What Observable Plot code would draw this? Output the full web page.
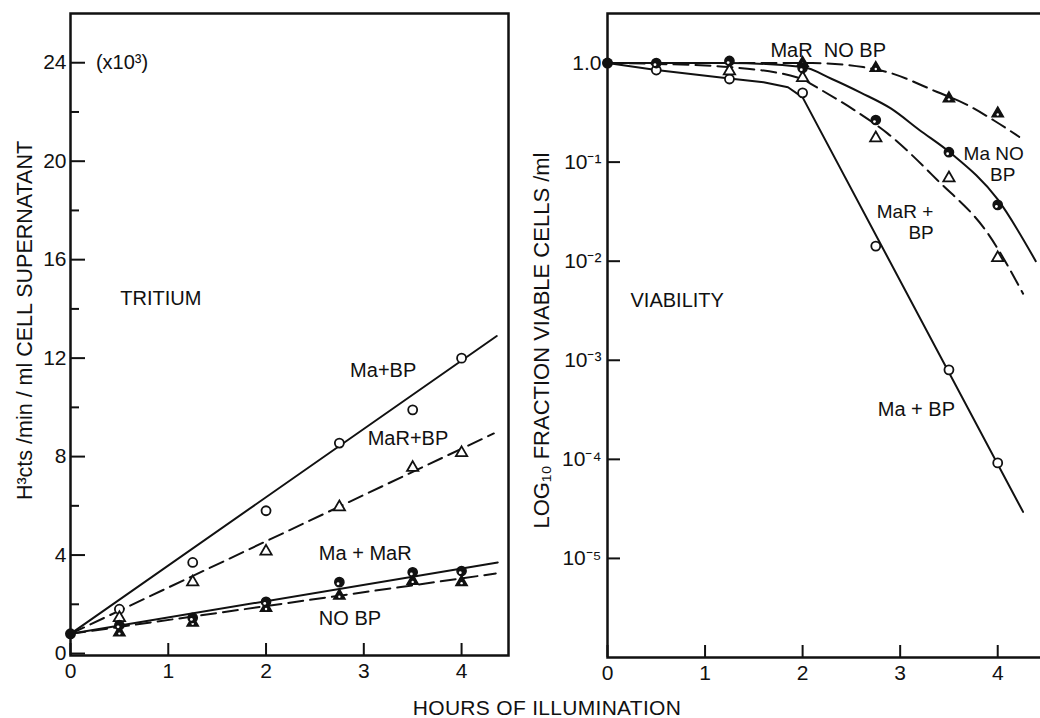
<!DOCTYPE html>
<html><head><meta charset="utf-8">
<script src="https://cdn.jsdelivr.net/npm/d3@7"></script>
<script src="https://cdn.jsdelivr.net/npm/@observablehq/plot@0.6"></script>
<style>
html,body{margin:0;padding:0;background:#fff;overflow:hidden;}
#wrap{position:relative;width:1040px;height:718px;overflow:hidden;font-family:"Liberation Sans",Arial,sans-serif;color:#111;background:#fff;}
#left{position:absolute;left:0;top:0;width:520px;}
#right{position:absolute;left:520px;top:0;width:540px;}
#left svg,#right svg{max-width:none !important;}
#xtitle{position:absolute;left:0;width:1094px;top:697px;text-align:center;font-size:21px;line-height:21px;letter-spacing:0.3px;}
</style></head><body>
<div id="wrap"><div id="left"></div><div id="right"></div><div id="xtitle">HOURS OF ILLUMINATION</div></div>
<script>
// ---------- shared ----------
const hours = [0.5, 1.25, 2, 2.75, 3.5, 4];
const startHour = 0;
const hourTicks = [0, 1, 2, 3, 4];
const xTitle = "HOURS OF ILLUMINATION";

// ---------- TRITIUM panel (x10^3 cts/min/ml) ----------
const tritStart = 0.8;
const tritMaBP = [1.8, 3.7, 5.8, 8.55, 9.9, 12.0];
const tritMaRBP = [1.45, 2.9, 4.15, 5.95, 7.55, 8.15];
const tritMaNoBP = [1.15, 1.45, 2.1, 2.9, 3.3, 3.35];
const tritMaRNoBP = [0.85, 1.25, 1.85, 2.35, 2.95, 2.9];
// fitted lines (hand-drawn in original)
const tritFitMaBPx = [0, 4.36], tritFitMaBPy = [0.8, 12.9];
const tritFitMaRBPx = [0, 4.33], tritFitMaRBPy = [0.8, 8.94];
const tritFitMaNoBPx = [0, 4.37], tritFitMaNoBPy = [0.8, 3.7];
const tritFitMaRNoBPx = [0, 4.35], tritFitMaRNoBPy = [0.8, 3.25];
const tritMajorTicks = [0, 4, 8, 12, 16, 20, 24];
const tritMinorTicks = [2, 6, 10, 14, 18, 22];
const tritYTitle = "H³cts /min / ml CELL SUPERNATANT";
const tritLabelText = ["(x10³)", "TRITIUM", "Ma+BP", "MaR+BP", "Ma + MaR", "NO BP"];
const tritLabelX = [0.26, 0.51, 2.86, 3.04, 2.54, 2.54];
const tritLabelY = [24.0, 14.42, 11.5, 8.74, 4.06, 1.42];

// ---------- VIABILITY panel (fraction viable) ----------
const viabStart = 1.0;
const viabMaBPx = [0.5, 1.25, 2, 2.75, 3.5, 4];
const viabMaBP = [0.85, 0.69, 0.50, 0.0142, 8.0e-4, 9.2e-5];
const viabMaNoBPx = [0.5, 1.25, 2, 2.75, 3.5, 4];
const viabMaNoBP = [1.0, 1.05, 0.89, 0.266, 0.126, 0.037];
const viabMaRBPx = [1.25, 2, 2.75, 3.5, 4];
const viabMaRBP = [0.83, 0.71, 0.175, 0.069, 0.0108];
const viabMaRNoBPx = [2, 2.75, 3.5, 4];
const viabMaRNoBP = [1.0, 0.89, 0.44, 0.31];
// fitted curves
const viabFitMaBPx = [0, 0.5, 1.25, 1.6, 1.85, 2.0, 4.26];
const viabFitMaBP = [1.0, 0.85, 0.70, 0.64, 0.57, 0.45, 2.95e-5];
const viabFitMaNoBPx = [0, 0.5, 1.25, 2.0, 2.3, 2.6, 2.9, 3.2, 3.52, 4.0, 4.39];
const viabFitMaNoBP = [1.0, 1.0, 1.0, 0.91, 0.69, 0.50, 0.35, 0.21, 0.123, 0.042, 0.010];
const viabFitMaRBPx = [0, 0.5, 1.25, 2.0, 2.08, 2.53, 2.87, 3.38, 3.9, 4.26];
const viabFitMaRBP = [1.0, 0.98, 0.91, 0.69, 0.62, 0.335, 0.195, 0.066, 0.019, 0.0047];
const viabFitMaRNoBPx = [0, 2.1, 2.62, 2.87, 3.38, 3.66, 3.97, 4.22];
const viabFitMaRNoBP = [1.0, 1.0, 0.91, 0.81, 0.51, 0.39, 0.26, 0.18];
const viabTicks = [1, 1e-1, 1e-2, 1e-3, 1e-4, 1e-5];
const viabYTitle = "LOG₁₀ FRACTION VIABLE CELLS /ml";
const NB = "\u00a0";
const viabLabelText = ["MaR  NO BP", "VIABILITY", "Ma + BP"];
const viabLabelX = [1.67, 0.236, 2.77];
const viabLabelY = [1.35, 0.00397, 3.16e-4];
// two-line labels
const viabWrapText = ["Ma NO\n" + NB.repeat(5) + "BP", "MaR +\n" + NB.repeat(6) + "BP"];
const viabWrapX = [3.65, 2.76];
const viabWrapY = [0.096, 0.0252];

// ---------- helpers ----------
const rows = (xs, ys) => xs.map((x, i) => ({x, y: ys[i]}));
const INK = "#111";
const FONT = "'Liberation Sans', Arial, sans-serif";
const supMap = {"-": "⁻", "0": "⁰", "1": "¹", "2": "²", "3": "³", "4": "⁴", "5": "⁵", "6": "⁶", "7": "⁷", "8": "⁸", "9": "⁹"};
const sup = s => String(s).split("").map(c => supMap[c]).join("");
const svgStyle = {fontFamily: FONT, fontSize: "21px", color: INK, background: "transparent", overflow: "visible", maxWidth: "none"};

function openCircles(data) {
  return Plot.dot(data, {x: "x", y: "y", r: 4.5, stroke: INK, strokeWidth: 1.8, fill: "white"});
}
function halfCircles(data) {
  return [
    Plot.dot(data, {x: "x", y: "y", r: 4.6, stroke: INK, strokeWidth: 1.5, fill: INK}),
    Plot.dot(data, {x: "x", y: "y", r: 1.4, fill: "white", dx: -1.3, dy: 1.6})
  ];
}
function openTriangles(data) {
  return Plot.dot(data, {x: "x", y: "y", symbol: "triangle", r: 4.2, stroke: INK, strokeWidth: 1.8, fill: "white"});
}
function filledTriangles(data) {
  return [
    Plot.dot(data, {x: "x", y: "y", symbol: "triangle", r: 4.2, stroke: INK, strokeWidth: 1.5, fill: INK}),
    Plot.dot(data, {x: "x", y: "y", r: 1.2, fill: "white", dy: 1})
  ];
}
const solid = {x: "x", y: "y", stroke: INK, strokeWidth: 2};
const dashed = {x: "x", y: "y", stroke: INK, strokeWidth: 2, strokeDasharray: "15,7"};

// ---------- left panel ----------
const LW = 520, LH = 690, LM = {l: 70, r: 12, t: 13, b: 35};
const left = Plot.plot({
  width: LW, height: LH,
  marginLeft: LM.l, marginRight: LM.r, marginTop: LM.t, marginBottom: LM.b,
  x: {domain: [0, 4.48]},
  y: {domain: [-0.08, 26]},
  style: svgStyle,
  marks: [
    Plot.frame({stroke: INK, strokeWidth: 2.5}),
    Plot.axisX({ticks: hourTicks, tickSize: 0, tickPadding: 8, tickFormat: d => String(d), label: null}),
    Plot.tickX(hourTicks, {x: d => d, stroke: INK, strokeWidth: 2, insetTop: LH - LM.t - LM.b - 12}),
    Plot.axisY({ticks: tritMajorTicks, tickSize: 0, tickPadding: 4, tickFormat: d => String(d), label: null}),
    Plot.tickY(tritMajorTicks, {y: d => d, stroke: INK, strokeWidth: 2, insetRight: LW - LM.l - LM.r - 15}),
    Plot.tickY(tritMinorTicks, {y: d => d, stroke: INK, strokeWidth: 2, insetRight: LW - LM.l - LM.r - 9}),
    Plot.text([tritYTitle], {frameAnchor: "left", text: d => d, textAnchor: "middle", rotate: -90, dx: -45, dy: -14, fontSize: 21.5, fill: INK}),
    Plot.line(rows(tritFitMaBPx, tritFitMaBPy), solid),
    Plot.line(rows(tritFitMaRBPx, tritFitMaRBPy), dashed),
    Plot.line(rows(tritFitMaNoBPx, tritFitMaNoBPy), solid),
    Plot.line(rows(tritFitMaRNoBPx, tritFitMaRNoBPy), dashed),
    openCircles(rows(hours, tritMaBP)),
    openTriangles(rows(hours, tritMaRBP)),
    filledTriangles(rows(hours, tritMaRNoBP)),
    halfCircles(rows(hours, tritMaNoBP)),
    Plot.dot([{x: startHour, y: tritStart}], {x: "x", y: "y", r: 5.5, fill: INK}),
    Plot.text(tritLabelText.map((t, i) => ({t, x: tritLabelX[i], y: tritLabelY[i]})),
      {x: "x", y: "y", text: "t", textAnchor: "start", fontSize: 20, fill: INK})
  ]
});
document.getElementById("left").appendChild(left);

// ---------- right panel ----------
const RW = 540, RH = 692, RM = {l: 87, r: 14, t: 13, b: 35};
const right = Plot.plot({
  width: RW, height: RH,
  marginLeft: RM.l, marginRight: RM.r, marginTop: RM.t, marginBottom: RM.b,
  x: {domain: [0, 4.5]},
  y: {type: "log", domain: [1e-6, Math.sqrt(10)]},
  style: svgStyle,
  marks: [
    Plot.frame({stroke: INK, strokeWidth: 2.5}),
    Plot.axisX({ticks: hourTicks, tickSize: 0, tickPadding: 8, tickFormat: d => String(d), label: null}),
    Plot.tickX(hourTicks, {x: d => d, stroke: INK, strokeWidth: 2, insetTop: RH - RM.t - RM.b - 12}),
    Plot.axisY({ticks: viabTicks, tickSize: 0, tickPadding: 6,
      tickFormat: d => d === 1 ? "1.0" : "10" + sup(Math.round(Math.log10(d))), label: null}),
    Plot.tickY(viabTicks, {y: d => d, stroke: INK, strokeWidth: 2, insetRight: RW - RM.l - RM.r - 13}),
    Plot.text([viabYTitle], {frameAnchor: "left", text: d => d, textAnchor: "middle", rotate: -90, dx: -66, dy: 5, fontSize: 22, fill: INK}),
    Plot.line(rows(viabFitMaBPx, viabFitMaBP), solid),
    Plot.line(rows(viabFitMaNoBPx, viabFitMaNoBP), {...solid, curve: "monotone-x"}),
    Plot.line(rows(viabFitMaRBPx, viabFitMaRBP), {...dashed, curve: "monotone-x"}),
    Plot.line(rows(viabFitMaRNoBPx, viabFitMaRNoBP), {...dashed, curve: "monotone-x"}),
    openCircles(rows(viabMaBPx, viabMaBP)),
    openTriangles(rows(viabMaRBPx, viabMaRBP)),
    filledTriangles(rows(viabMaRNoBPx, viabMaRNoBP)),
    halfCircles(rows(viabMaNoBPx, viabMaNoBP)),
    Plot.dot([{x: startHour, y: viabStart}], {x: "x", y: "y", r: 5.5, fill: INK}),
    Plot.text(viabLabelText.map((t, i) => ({t, x: viabLabelX[i], y: viabLabelY[i]})),
      {x: "x", y: "y", text: "t", textAnchor: "start", fontSize: 20, fill: INK}),
    Plot.text(viabWrapText.map((t, i) => ({t, x: viabWrapX[i], y: viabWrapY[i]})),
      {x: "x", y: "y", text: "t", textAnchor: "start", lineAnchor: "middle", lineHeight: 1.12, fontSize: 19, fill: INK})
  ]
});
document.getElementById("right").appendChild(right);
document.getElementById("xtitle").textContent = xTitle;
</script>
</body></html>
